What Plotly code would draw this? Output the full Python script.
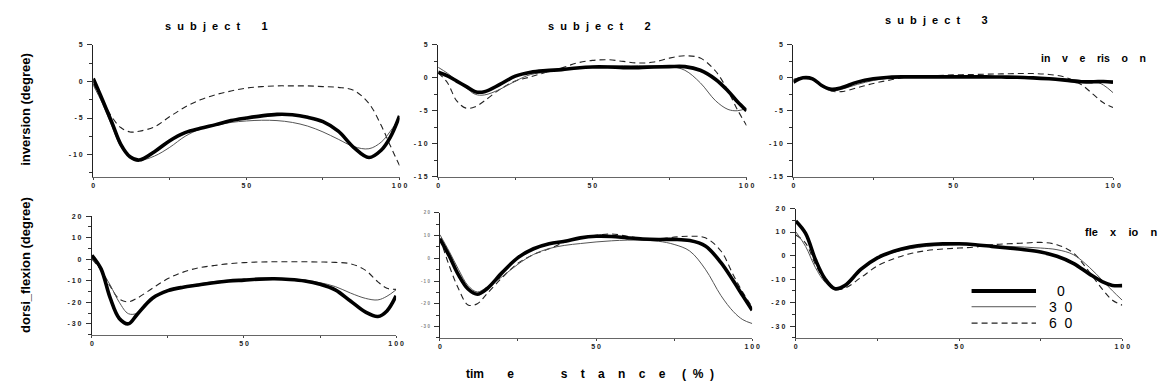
import plotly.graph_objects as go

# ---------------- data ----------------
x_pct = [0, 3, 6, 9, 12, 15, 20, 25, 30, 35, 40, 45, 50, 55, 60, 65, 70, 75, 80, 85, 90, 94, 97, 100]

# inversion (degree)
inv_s1_0 = [0.4, -2.5, -5.5, -8.6, -10.3, -10.75, -9.6, -8.1, -7.0, -6.4, -5.9, -5.35, -5.0, -4.7, -4.5, -4.55, -4.9, -5.5, -6.8, -9.0, -10.4, -9.4, -7.6, -4.7]
inv_s1_30 = [-0.5, -3.0, -6.0, -8.9, -10.4, -10.8, -10.2, -9.0, -7.5, -6.5, -6.0, -5.6, -5.4, -5.3, -5.35, -5.6, -6.1, -6.9, -7.9, -8.9, -9.2, -8.3, -6.8, -5.0]
inv_s1_60 = [-0.3, -2.5, -4.8, -6.3, -6.9, -6.8, -6.2, -4.8, -3.5, -2.5, -1.8, -1.3, -0.9, -0.7, -0.6, -0.6, -0.6, -0.7, -0.8, -1.2, -3.0, -6.0, -8.8, -11.5]

inv_s2_0 = [0.85, 0.3, -0.5, -1.3, -2.1, -2.1, -1.0, 0.25, 0.85, 1.1, 1.25, 1.5, 1.65, 1.65, 1.55, 1.55, 1.65, 1.7, 1.7, 1.15, -0.25, -2.0, -3.6, -5.0]
inv_s2_30 = [1.6, 0.7, -0.4, -1.5, -2.5, -2.6, -1.75, -0.5, 0.5, 0.85, 1.25, 1.5, 1.75, 1.8, 1.85, 1.85, 1.85, 1.75, 1.15, -0.75, -3.5, -4.8, -5.0, -4.65]
inv_s2_60 = [0.75, -0.75, -3.5, -4.6, -4.4, -3.5, -1.75, -0.5, 0.15, 0.85, 1.5, 2.25, 2.65, 2.75, 2.5, 2.25, 2.4, 3.0, 3.35, 3.0, 1.0, -2.0, -4.8, -7.25]

inv_s3_0 = [-0.65, 0.0, -0.15, -1.2, -1.75, -1.5, -0.65, -0.15, 0.1, 0.15, 0.15, 0.15, 0.15, 0.15, 0.15, 0.12, 0.1, 0.0, -0.15, -0.35, -0.6, -0.6, -0.55, -0.65]
inv_s3_30 = [-0.25, 0.05, -0.3, -1.4, -2.0, -1.75, -1.0, -0.4, -0.05, 0.05, 0.1, 0.1, 0.1, 0.1, 0.1, 0.1, 0.05, 0.02, 0.0, -0.2, -0.4, -0.5, -1.1, -2.25]
inv_s3_60 = [-0.25, 0.1, -0.3, -1.3, -2.0, -2.1, -1.5, -0.85, -0.35, 0.1, 0.2, 0.35, 0.45, 0.5, 0.55, 0.6, 0.65, 0.65, 0.5, 0.1, -1.0, -2.6, -3.8, -4.5]

# dorsi_flexion (degree)
flx_s1_0 = [1.8, -4.5, -18.0, -27.5, -30.0, -25.4, -18.0, -14.6, -13.0, -12.0, -10.9, -10.1, -9.7, -9.25, -9.1, -9.4, -10.1, -11.6, -14.2, -19.4, -24.6, -26.6, -24.0, -17.0]
flx_s1_30 = [0.7, -5.0, -12.0, -20.0, -25.3, -25.0, -18.0, -14.2, -12.7, -11.5, -10.4, -9.7, -9.25, -9.1, -9.0, -9.2, -9.7, -10.9, -12.7, -15.7, -18.2, -18.9, -17.2, -14.2]
flx_s1_60 = [0.0, -5.0, -12.5, -18.5, -19.8, -18.0, -13.4, -9.0, -6.0, -4.0, -3.0, -2.1, -1.6, -1.3, -1.2, -1.2, -1.2, -1.3, -1.5, -2.1, -5.2, -10.5, -13.5, -14.0]

flx_s2_0 = [8.5, 1.0, -7.4, -13.5, -15.8, -13.5, -6.2, 0.3, 4.2, 6.4, 7.5, 9.0, 9.7, 9.6, 9.0, 8.5, 8.3, 8.3, 7.8, 5.4, -1.9, -10.0, -16.5, -22.9]
flx_s2_30 = [10.4, 3.0, -5.0, -12.0, -14.8, -12.75, -8.0, -2.6, 1.7, 4.3, 5.7, 6.5, 7.2, 7.7, 8.0, 7.9, 7.5, 6.1, 3.2, -4.8, -16.4, -23.5, -27.0, -28.7]
flx_s2_60 = [9.0, -3.3, -13.5, -20.5, -20.0, -15.7, -8.4, -2.2, 1.7, 4.2, 7.1, 9.0, 10.1, 10.7, 9.7, 8.7, 8.5, 9.3, 9.7, 9.0, 3.2, -7.5, -15.0, -21.4]

flx_s3_0 = [14.7, 9.4, -1.7, -10.0, -14.1, -12.8, -5.8, -1.0, 1.8, 3.6, 4.6, 5.0, 5.0, 4.6, 3.9, 3.2, 2.5, 1.5, -0.3, -3.3, -7.9, -11.2, -12.7, -12.8]
flx_s3_30 = [10.1, 3.9, -5.1, -11.4, -14.4, -13.1, -6.25, -1.4, 1.4, 2.9, 3.9, 4.3, 4.6, 4.5, 4.2, 3.9, 3.6, 3.2, 2.5, 0.4, -5.1, -10.7, -15.0, -19.0]
flx_s3_60 = [8.75, 5.3, -3.75, -10.7, -14.2, -13.9, -9.3, -4.4, -1.4, 0.8, 2.1, 2.8, 3.2, 3.6, 4.6, 5.0, 5.3, 5.6, 4.6, 1.1, -7.2, -14.5, -19.0, -21.1]

conditions = ["0", "30", "60"]
legend_labels = ["0", "3\u00a0\u00a00", "6\u00a0\u00a00"]
subject_titles = ["subject 1", "subject 2", "subject 3"]

inv_ticks = [5, 0, -5, -10, -15]
flx_ticks = [20, 10, 0, -10, -20, -30]
x_ticks = [0, 50, 100]

# ---------------- layout helpers ----------------
W, H = 1161, 387
NB = "\u00a0"


def spaced(s, gap=1):
    return (NB * gap).join(s)


def num_label(v):
    s = str(abs(int(v)))
    body = NB.join(s)
    return ("-" + NB + body) if v < 0 else body


def xd(a, b):
    return [a / W, b / W]


def yd(top, bot):
    return [1 - bot / H, 1 - top / H]


styles = {
    "0": dict(color="black", width=3.6, dash="solid"),
    "30": dict(color="#555555", width=1.0, dash="solid"),
    "60": dict(color="#222222", width=1.1, dash="6px,4px"),
}

panels = [
    ([inv_s1_0, inv_s1_30, inv_s1_60], (92, 401), (41.7, 175.7), [-13, 5], inv_ticks[:4], 2.5, 7, "#222"),
    ([inv_s2_0, inv_s2_30, inv_s2_60], (440, 751), (41.7, 175.7), [-15, 5], inv_ticks, 2.5, 7, "#222"),
    ([inv_s3_0, inv_s3_30, inv_s3_60], (798.3, 1120.7), (41.7, 175.7), [-15, 5], inv_ticks, 2.5, 7, "#222"),
    ([flx_s1_0, flx_s1_30, flx_s1_60], (90.7, 397.5), (216, 336.7), [-35, 20], flx_ticks, 5, 7, "#222"),
    ([flx_s2_0, flx_s2_30, flx_s2_60], (441.7, 756.7), (212.7, 340), [-35, 20], flx_ticks, 5, 4.5, "#888"),
    ([flx_s3_0, flx_s3_30, flx_s3_60], (800.7, 1130), (208.3, 340), [-35, 20], flx_ticks, 5, 7, "#222"),
]

fig = go.Figure()
layout = {}
for i, (series, (xa, xb), (yt, yb), yr, yticks, ymin, yfs, yfc) in enumerate(panels):
    n = i + 1
    xname = "x" if n == 1 else f"x{n}"
    yname = "y" if n == 1 else f"y{n}"
    for cond, vals in zip(["60", "30", "0"], [series[2], series[1], series[0]]):
        fig.add_trace(go.Scatter(
            x=x_pct, y=vals, mode="lines", xaxis=xname, yaxis=yname,
            line=dict(shape="spline", smoothing=1.0, **styles[cond]),
            showlegend=False, hoverinfo="skip", cliponaxis=False,
        ))
    layout[f"xaxis{n}" if n > 1 else "xaxis"] = dict(
        domain=xd(xa, xb), anchor=yname, range=[0, 100],
        tickmode="array", tickvals=x_ticks, ticktext=[num_label(v) for v in x_ticks],
        ticks="outside", ticklen=2, tickwidth=1, tickcolor="#444",
        minor=dict(tickvals=[25, 75], ticks="outside", ticklen=2, tickcolor="#444"),
        showline=True, linecolor="#666", linewidth=1.3, showgrid=False, zeroline=False,
        tickfont=dict(family="Liberation Sans, Arial", size=7, color="#222", weight="bold"),
        fixedrange=True,
    )
    layout[f"yaxis{n}" if n > 1 else "yaxis"] = dict(
        domain=yd(yt, yb), anchor=xname, range=yr,
        tickmode="array", tickvals=yticks, ticktext=[num_label(v) for v in yticks],
        ticks="outside", ticklen=5, tickwidth=1, tickcolor="#333",
        minor=dict(dtick=ymin, tick0=0, ticks="outside", ticklen=3, tickcolor="#333"),
        showline=True, linecolor="#222", linewidth=1.2, showgrid=False, zeroline=False,
        tickfont=dict(family="Liberation Sans, Arial", size=yfs, color=yfc, weight="bold"),
        ticklabelstandoff=3,
        fixedrange=True,
    )

annotations = []


def add_text(text, px, py, size, bold=True, xanchor="center", angle=0, color="black"):
    annotations.append(dict(
        text=text, x=px / W, y=1 - py / H, xref="paper", yref="paper",
        xanchor=xanchor, yanchor="middle", showarrow=False, textangle=angle,
        font=dict(family="Liberation Sans, Arial", size=size, color=color,
                  weight="bold" if bold else "normal"),
    ))


def title_text(t):
    word, num = t.split(" ")
    return spaced(word, 2) + NB * 7 + num


title_pos = [(216.7, 22.7), (602.5, 22.7), (943, 16.7)]
for t, (px, py) in zip(subject_titles, title_pos):
    add_text(title_text(t), px, py, 11)

add_text("inversion (degree)", 23, 107, 13, angle=-90)
add_text("dorsi_flexion (degree)", 23, 266, 13, angle=-90)

add_text("tim" + NB * 7 + "e" + NB * 14 + spaced("stance", 4) + NB * 5
         + "(" + NB * 2 + "%" + NB * 2 + ")", 466, 377, 12, xanchor="left")

add_text("in" + NB * 4 + "v" + NB * 4 + "e" + NB * 4 + "ris" + NB * 4 + "o" + NB * 4 + "n", 1156, 55, 10.5, xanchor="right")
add_text("fle" + NB * 4 + "x" + NB * 4 + "io" + NB * 4 + "n", 1167, 231.7, 11, xanchor="right")

# legend (key lines + labels)
shapes = []
legend_rows = [292.3, 308.3, 325.0]
for cond, lab, py in zip(conditions, legend_labels, legend_rows):
    st = styles[cond]
    shapes.append(dict(
        type="line", xref="paper", yref="paper",
        x0=978 / W, x1=1043 / W, y0=1 - py / H, y1=1 - py / H,
        line=dict(color=st["color"], width=st["width"] if cond != "0" else 4, dash=st["dash"]),
    ))
    add_text(lab, 1068, py, 14, bold=False)

fig.update_layout(
    width=W, height=H, autosize=False,
    margin=dict(l=0, r=0, t=0, b=0),
    paper_bgcolor="white", plot_bgcolor="white",
    showlegend=False,
    annotations=annotations, shapes=shapes,
    **layout,
)

fig.write_html(
    "out.html",
    config={"displayModeBar": False},
    post_script="document.body.style.margin='0';document.body.style.overflow='hidden';",
)
